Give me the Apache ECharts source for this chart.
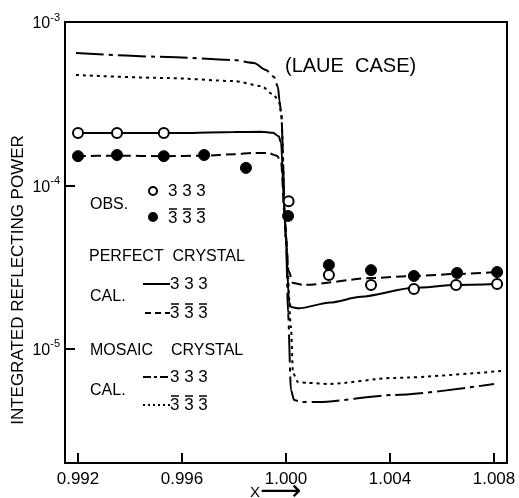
<!DOCTYPE html>
<html>
<head>
<meta charset="utf-8">
<script src="https://cdn.jsdelivr.net/npm/echarts@6/dist/echarts.min.js"></script>
<style>
  html, body { margin: 0; padding: 0; background: #fff; }
  #main { width: 519px; height: 498px; }
</style>
</head>
<body>
<div id="main"></div>
<script>
// tick positions
var xTicks = [0.992, 0.996, 1.000, 1.004, 1.008];
var yTicks = [1e-5, 1e-4, 1e-3];

// calculated curves, [x, integrated reflecting power]
var perfect333 = [[0.99192, 2.09e-4], [0.994, 2.09e-4], [0.996, 2.09e-4], [0.998, 2.12e-4], [0.99904, 2.13e-4],
  [0.9995, 2.10e-4], [0.99972, 2.0e-4], [0.99981, 1.82e-4], [0.99996, 6.0e-5], [1.00012, 1.93e-5],
  [1.00019, 1.80e-5], [1.0005, 1.77e-5], [1.0017, 1.92e-5], [1.00288, 2.08e-5], [1.00492, 2.36e-5],
  [1.00654, 2.46e-5], [1.00812, 2.49e-5]];
var perfect3b = [[0.99192, 1.51e-4], [0.9935, 1.52e-4], [0.9953, 1.51e-4], [0.99685, 1.52e-4], [0.998, 1.55e-4],
  [0.99877, 1.58e-4], [0.99931, 1.58e-4], [0.99965, 1.52e-4], [0.99981, 1.4e-4], [0.99996, 6.0e-5],
  [1.0001, 3.0e-5], [1.00027, 2.53e-5], [1.00069, 2.46e-5], [1.00327, 2.71e-5], [1.00492, 2.79e-5],
  [1.00658, 2.87e-5], [1.00812, 2.95e-5]];
var mosaic333 = [[0.99192, 6.46e-4], [0.99546, 6.11e-4], [0.998, 5.85e-4], [0.99877, 5.61e-4], [0.99923, 5.08e-4],
  [0.99954, 4.61e-4], [0.99969, 4.0e-4], [0.99975, 3.3e-4], [0.99981, 2.81e-4], [1.0, 4.63e-5],
  [1.00008, 1.66e-5], [1.00019, 5.6e-6], [1.00031, 4.86e-6], [1.00058, 4.72e-6], [1.00123, 4.72e-6],
  [1.00415, 5.21e-6], [1.008, 6.09e-6]];
var mosaic3b = [[0.99192, 4.74e-4], [0.99546, 4.54e-4], [0.998, 4.35e-4], [0.99904, 4.06e-4], [0.99954, 3.57e-4],
  [0.99973, 3.24e-4], [0.99981, 2.81e-4], [1.0, 4.63e-5], [1.00019, 1.36e-5], [1.00027, 7.11e-6],
  [1.00046, 6.26e-6], [1.00085, 6.18e-6], [1.00162, 6.09e-6], [1.00415, 6.63e-6], [1.00827, 7.31e-6]];

// observed
var obs333 = [[0.992, 2.09e-4], [0.9935, 2.09e-4], [0.9953, 2.09e-4], [1.0001, 8.0e-5], [1.00165, 2.83e-5],
  [1.00327, 2.46e-5], [1.00492, 2.32e-5], [1.00654, 2.46e-5], [1.00812, 2.49e-5]];
var obs3b = [[0.992, 1.51e-4], [0.9935, 1.535e-4], [0.9953, 1.51e-4], [0.99685, 1.535e-4], [0.99846, 1.28e-4],
  [1.00008, 6.5e-5], [1.00165, 3.26e-5], [1.00327, 3.03e-5], [1.00492, 2.79e-5], [1.00658, 2.91e-5],
  [1.00812, 2.95e-5]];

var FONT = '"Liberation Sans", Arial, sans-serif';

function txt(s, x, y, size, extra) {
  var o = { type: 'text', x: x, y: y, z: 100,
    style: { text: s, font: (size || 16) + 'px ' + FONT, fill: '#000', textVerticalAlign: 'middle' } };
  if (extra) for (var k in extra) o.style[k] = extra[k];
  return o;
}
function seg(x1, x2, y, dash, w) {
  return { type: 'line', z: 100, shape: { x1: x1, y1: y, x2: x2, y2: y },
    style: { stroke: '#000', lineWidth: w || 2, lineDash: dash || null } };
}
function dot(cx, cy, filled) {
  return { type: 'circle', z: 100, shape: { cx: cx, cy: cy, r: 4 },
    style: { fill: filled ? '#000' : '#fff', stroke: '#000', lineWidth: 2 } };
}
// "3 3 3" with a bar over every digit
function bar333(x, y) {
  return [txt('3 3 3', x, y, 17),
    seg(x + 1, x + 9, y - 9, null, 1.5),
    seg(x + 15, x + 23, y - 9, null, 1.5),
    seg(x + 29, x + 37, y - 9, null, 1.5)];
}

function curve(name, data, dash) {
  return {
    name: name, type: 'line', data: data, symbol: 'none', smooth: 0.25, smoothMonotone: 'x',
    lineStyle: { color: '#000', width: 2, type: dash || 'solid' }, z: 2
  };
}

var graphics = [
  txt('INTEGRATED REFLECTING POWER', 18, 280, 17, { textAlign: 'center' }),
  txt('(LAUE  CASE)', 285, 66, 20),
  txt('X', 250, 493, 15),
  txt('\u27F6', 260, 492, 29, { font: '29px "DejaVu Sans"' }),
  txt('OBS.', 90, 205, 16),
  dot(153, 191, false), txt('3 3 3', 168, 191, 17),
  dot(153, 217, true),
  txt('PERFECT  CRYSTAL', 89, 257, 16),
  txt('CAL.', 90, 297, 16),
  seg(143, 170, 284), txt('3 3 3', 170, 284, 17),
  seg(145, 170, 313, [6, 4]),
  txt('MOSAIC    CRYSTAL', 90, 351, 16),
  txt('CAL.', 90, 391, 16),
  seg(143, 170, 377, [8, 3, 3, 3]), txt('3 3 3', 170, 377, 17),
  seg(143, 170, 405, [2, 3])
].concat(bar333(168, 218), bar333(170, 313), bar333(170, 405));
graphics[0].rotation = Math.PI / 2;

var myChart = echarts.init(document.getElementById('main'));
var option = {
  animation: false,
  grid: { left: 65, right: 12, top: 22, bottom: 35, show: true, borderColor: '#000', borderWidth: 2 },
  xAxis: {
    type: 'value', min: 0.9915, max: 1.0085,
    axisLine: { lineStyle: { color: '#000', width: 2 } },
    axisTick: { inside: true, length: 10, customValues: xTicks, lineStyle: { color: '#000', width: 2 } },
    axisLabel: { customValues: xTicks, color: '#000', fontSize: 17, fontFamily: FONT, margin: 8,
      formatter: function (v) { return v.toFixed(3); } },
    splitLine: { show: false }
  },
  yAxis: {
    type: 'log', logBase: 10, min: 2e-6, max: 1e-3,
    axisLine: { lineStyle: { color: '#000', width: 2 } },
    axisTick: { inside: true, length: 10, lineStyle: { color: '#000', width: 2 } },
    minorTick: { show: false },
    axisLabel: {
      color: '#000', margin: 5, fontFamily: FONT,
      formatter: function (v) {
        var e = Math.round(Math.log10(v));
        if (Math.abs(Math.log10(v) - e) > 0.01) return '';
        return '{a|10}{b|' + e + '}';
      },
      rich: {
        a: { fontSize: 16, fontFamily: FONT, color: '#000', lineHeight: 20, verticalAlign: 'bottom' },
        b: { fontSize: 11, fontFamily: FONT, color: '#000', lineHeight: 11, verticalAlign: 'top' }
      }
    },
    splitLine: { show: false }
  },
  series: [
    curve('perfect 333', perfect333),
    curve('perfect 333 bar', perfect3b, [10, 5]),
    curve('mosaic 333', mosaic333, [28, 5, 4, 5]),
    curve('mosaic 333 bar', mosaic3b, [3, 4]),
    { name: 'obs 333', type: 'scatter', data: obs333, symbol: 'circle', symbolSize: 10, z: 5,
      itemStyle: { color: '#fff', borderColor: '#000', borderWidth: 2, opacity: 1 } },
    { name: 'obs 333 bar', type: 'scatter', data: obs3b, symbol: 'circle', symbolSize: 11, z: 5,
      itemStyle: { color: '#000', borderColor: '#000', borderWidth: 1, opacity: 1 } }
  ],
  graphic: graphics
};
myChart.setOption(option);
</script>
</body>
</html>
